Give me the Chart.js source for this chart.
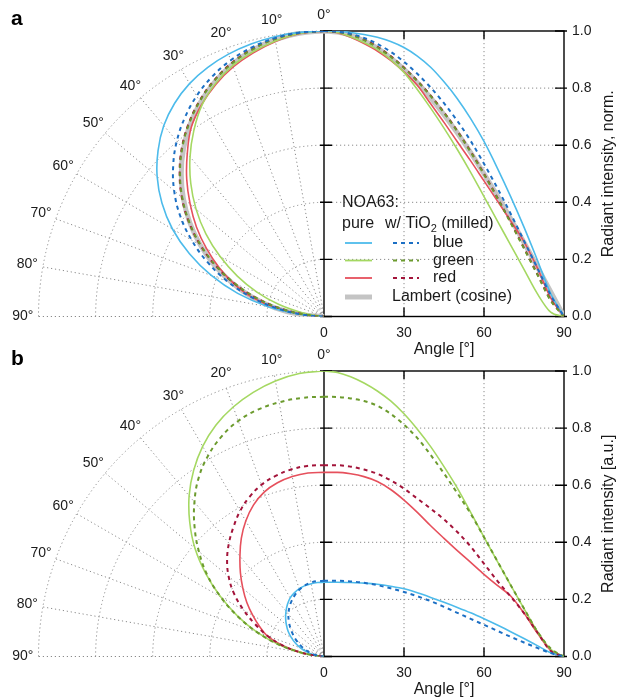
<!DOCTYPE html>
<html>
<head>
<meta charset="utf-8">
<script src="https://cdn.jsdelivr.net/npm/chart.js@4.4.1/dist/chart.umd.min.js"></script>
<style>
body { margin: 0; background: #fff; }
#wrap { position: relative; width: 618px; height: 698px; }
canvas { position: absolute; left: 0; }
#chartA { top: 0; }
#chartB { top: 340px; }
</style>
</head>
<body>
<div id="wrap">
  <canvas id="chartA" width="618" height="358"></canvas>
  <canvas id="chartB" width="618" height="358"></canvas>
</div>
<script>
// emission angle in degrees
const angles = [0, 5, 10, 15, 20, 25, 30, 35, 40, 45, 50, 55, 60, 65, 70, 75, 80, 85, 90];

// panel a, normalized
const lambert      = [1, 0.996, 0.985, 0.966, 0.94, 0.906, 0.866, 0.819, 0.766, 0.707, 0.643, 0.574, 0.5, 0.423, 0.342, 0.259, 0.174, 0.087, 0];
const aBluePure    = [1, 0.999, 0.995, 0.988, 0.978, 0.963, 0.942, 0.912, 0.873, 0.822, 0.763, 0.693, 0.613, 0.52, 0.42, 0.313, 0.198, 0.08, 0];
const aBlueMilled  = [1, 0.998, 0.99, 0.976, 0.955, 0.927, 0.892, 0.85, 0.802, 0.747, 0.685, 0.615, 0.535, 0.45, 0.36, 0.265, 0.17, 0.075, 0];
const aGreenPure   = [1, 0.995, 0.98, 0.96, 0.935, 0.9, 0.855, 0.795, 0.73, 0.66, 0.585, 0.505, 0.42, 0.335, 0.25, 0.165, 0.08, 0.015, 0];
const aGreenMilled = [1, 0.997, 0.987, 0.968, 0.943, 0.91, 0.87, 0.824, 0.772, 0.713, 0.648, 0.576, 0.498, 0.415, 0.328, 0.238, 0.147, 0.056, 0];
const aRedPure     = [1, 0.994, 0.978, 0.956, 0.93, 0.897, 0.857, 0.81, 0.745, 0.68, 0.612, 0.545, 0.475, 0.405, 0.335, 0.262, 0.17, 0.065, 0];
const aRedMilled   = [1, 0.997, 0.988, 0.97, 0.945, 0.912, 0.872, 0.826, 0.774, 0.715, 0.65, 0.578, 0.5, 0.417, 0.33, 0.24, 0.149, 0.058, 0];

// panel b, a.u.
const bBluePure    = [0.26, 0.26, 0.259, 0.257, 0.253, 0.246, 0.237, 0.223, 0.207, 0.19, 0.172, 0.153, 0.132, 0.11, 0.087, 0.063, 0.038, 0.013, 0];
const bBlueMilled  = [0.265, 0.265, 0.263, 0.258, 0.25, 0.239, 0.226, 0.211, 0.194, 0.174, 0.153, 0.132, 0.111, 0.09, 0.069, 0.049, 0.03, 0.012, 0];
const bGreenPure   = [1, 0.995, 0.98, 0.958, 0.93, 0.895, 0.85, 0.796, 0.735, 0.665, 0.59, 0.505, 0.418, 0.333, 0.25, 0.168, 0.088, 0.025, 0];
const bGreenMilled = [0.91, 0.909, 0.904, 0.895, 0.878, 0.85, 0.812, 0.765, 0.706, 0.641, 0.572, 0.5, 0.418, 0.334, 0.25, 0.168, 0.088, 0.028, 0];
const bRedPure     = [0.645, 0.645, 0.64, 0.63, 0.613, 0.585, 0.548, 0.505, 0.458, 0.414, 0.371, 0.33, 0.288, 0.249, 0.212, 0.152, 0.082, 0.021, 0];
const bRedMilled   = [0.67, 0.67, 0.665, 0.655, 0.64, 0.617, 0.588, 0.553, 0.518, 0.48, 0.436, 0.385, 0.325, 0.265, 0.21, 0.152, 0.085, 0.02, 0];

// axes
const xTicks = [0, 30, 60, 90];
const yTicks = [0, 0.2, 0.4, 0.6, 0.8, 1.0];
const polarDeg = [0, 10, 20, 30, 40, 50, 60, 70, 80, 90];
const polarRings = [0.2, 0.4, 0.6, 0.8, 1.0];

const TXT = '#1a1a1a';
const FONT = '"Liberation Sans", Arial, sans-serif';
const C = {
    bluePure: '#4dbbeb', blueMilled: '#1c6fc4',
    greenPure: '#a5d862', greenMilled: '#6c9b2e',
    redPure: '#e6505c', redMilled: '#a3143a',
    lambert: '#c4c4c4'
};
const DASH = [4, 4];

Chart.defaults.font.family = FONT;
Chart.defaults.color = TXT;

function polarPoints(vals) {
    return angles.map((a, i) => ({
        x: -vals[i] * Math.sin(a * Math.PI / 180),
        y: vals[i] * Math.cos(a * Math.PI / 180)
    }));
}

function makeDatasets(series) {
    let out = [];
    series.forEach(s => {
        let base = {
            borderColor: s.color, borderWidth: s.width, borderDash: s.dash || [],
            pointRadius: 0, showLine: true, fill: false, order: s.order
        };
        out.push(Object.assign({}, base, {
            xAxisID: 'x', cubicInterpolationMode: 'monotone',
            data: angles.map((a, i) => ({ x: a, y: s.vals[i] }))
        }));
        out.push(Object.assign({}, base, {
            xAxisID: 'xp', tension: 0.4,
            data: polarPoints(s.vals)
        }));
    });
    return out;
}

const framePlugin = {
    id: 'frame',
    beforeDatasetsDraw(chart, args, opts) {
        const ctx = chart.ctx;
        const xs = chart.scales.x, xp = chart.scales.xp, ys = chart.scales.y;
        const cx = xp.getPixelForValue(0), cy = ys.getPixelForValue(0);
        const R = ys.getPixelForValue(0) - ys.getPixelForValue(1);
        const top = ys.getPixelForValue(1), bottom = cy;
        const x0 = xs.getPixelForValue(0), x90 = xs.getPixelForValue(90);

        ctx.save();
        ctx.strokeStyle = '#8a8a8a';
        ctx.lineWidth = 1;
        ctx.setLineDash([1.2, 2.8]);
        // polar rings
        polarRings.forEach(r => {
            ctx.beginPath();
            ctx.arc(cx, cy, r * R, Math.PI, 1.5 * Math.PI);
            ctx.stroke();
        });
        // polar spokes
        polarDeg.forEach(d => {
            if (d === 0) return;
            const t = d * Math.PI / 180;
            ctx.beginPath();
            ctx.moveTo(cx, cy);
            ctx.lineTo(xp.getPixelForValue(-Math.sin(t)), ys.getPixelForValue(Math.cos(t)));
            ctx.stroke();
        });
        // cartesian grid
        [30, 60].forEach(v => {
            const px = xs.getPixelForValue(v);
            ctx.beginPath(); ctx.moveTo(px, top); ctx.lineTo(px, bottom); ctx.stroke();
        });
        yTicks.slice(1, -1).forEach(v => {
            const py = ys.getPixelForValue(v);
            ctx.beginPath(); ctx.moveTo(x0, py); ctx.lineTo(x90, py); ctx.stroke();
        });
        ctx.setLineDash([]);

        // frame and tick marks
        ctx.strokeStyle = '#000';
        ctx.lineWidth = 1.4;
        ctx.strokeRect(x0, top, x90 - x0, bottom - top);
        ctx.beginPath();
        yTicks.forEach(v => {
            const py = ys.getPixelForValue(v);
            ctx.moveTo(x0 - 4, py); ctx.lineTo(x0 + 8, py);
            ctx.moveTo(x90 - 9, py); ctx.lineTo(x90 + 3, py);
        });
        [30, 60].forEach(v => {
            const px = xs.getPixelForValue(v);
            ctx.moveTo(px, bottom); ctx.lineTo(px, bottom - 9);
            ctx.moveTo(px, top); ctx.lineTo(px, top + 8);
        });
        ctx.stroke();

        // polar angle labels
        ctx.fillStyle = TXT;
        ctx.font = '14px ' + FONT;
        ctx.textAlign = 'center';
        ctx.textBaseline = 'middle';
        polarDeg.forEach(d => {
            const t = d * Math.PI / 180;
            const px = xp.getPixelForValue(-1.055 * Math.sin(t));
            const py = ys.getPixelForValue(1.055 * Math.cos(t));
            ctx.fillText(d + '°', px, py);
        });
        ctx.restore();
    },
    afterDraw(chart, args, opts) {
        const ctx = chart.ctx;
        const xs = chart.scales.x, ys = chart.scales.y;
        const top = ys.getPixelForValue(1), bottom = ys.getPixelForValue(0);
        const x0 = xs.getPixelForValue(0), x90 = xs.getPixelForValue(90);
        ctx.save();
        ctx.fillStyle = '#000';
        ctx.font = 'bold 21px ' + FONT;
        ctx.textAlign = 'left';
        ctx.textBaseline = 'alphabetic';
        ctx.fillText(opts.letter, 11, 25);

        ctx.fillStyle = TXT;
        ctx.font = '16px ' + FONT;
        ctx.textAlign = 'center';
        ctx.textBaseline = 'middle';
        ctx.fillText('Angle [°]', (x0 + x90) / 2, bottom + 33);

        ctx.translate(609, (top + bottom) / 2);
        ctx.rotate(-Math.PI / 2);
        ctx.fillText(opts.yTitle, 0, 0);
        ctx.restore();

        if (opts.legend) drawLegend(ctx);
    }
};

function drawLegend(ctx) {
    const f = '16px ' + FONT;
    ctx.save();
    ctx.fillStyle = TXT;
    ctx.font = f;
    ctx.textAlign = 'left';
    ctx.textBaseline = 'middle';
    ctx.fillText('NOA63:', 342, 203);
    ctx.fillText('pure', 342, 224);
    let x = 385;
    ctx.fillText('w/ TiO', x, 224);
    x += ctx.measureText('w/ TiO').width;
    ctx.font = '11px ' + FONT;
    ctx.fillText('2', x, 229);
    x += ctx.measureText('2').width;
    ctx.font = f;
    ctx.fillText(' (milled)', x, 224);

    const rows = [
        { y: 243, pure: C.bluePure, milled: C.blueMilled, label: 'blue' },
        { y: 260.5, pure: C.greenPure, milled: C.greenMilled, label: 'green' },
        { y: 278, pure: C.redPure, milled: C.redMilled, label: 'red' }
    ];
    rows.forEach(r => {
        ctx.lineWidth = 1.8;
        ctx.strokeStyle = r.pure;
        ctx.setLineDash([]);
        ctx.beginPath(); ctx.moveTo(345, r.y); ctx.lineTo(372, r.y); ctx.stroke();
        ctx.lineWidth = 2;
        ctx.strokeStyle = r.milled;
        ctx.setLineDash(DASH);
        ctx.beginPath(); ctx.moveTo(393, r.y); ctx.lineTo(419, r.y); ctx.stroke();
        ctx.fillText(r.label, 433, r.y);
    });
    ctx.setLineDash([]);
    ctx.lineWidth = 5;
    ctx.strokeStyle = C.lambert;
    ctx.beginPath(); ctx.moveTo(345, 297); ctx.lineTo(372, 297); ctx.stroke();
    ctx.fillText('Lambert (cosine)', 392, 297);
    ctx.restore();
}

function makeChart(id, series, opts) {
    return new Chart(document.getElementById(id), {
        type: 'scatter',
        data: { datasets: makeDatasets(series) },
        options: {
            responsive: false,
            animation: false,
            events: [],
            layout: { padding: { left: 38.5, top: 31, right: 0, bottom: 0 } },
            plugins: {
                legend: { display: false },
                tooltip: { enabled: false },
                frame: opts
            },
            scales: {
                x: {
                    type: 'linear', position: 'bottom',
                    min: -107.0625, max: 90,
                    grid: { display: false, drawTicks: false },
                    border: { display: false },
                    ticks: { padding: 8, color: TXT, font: { size: 14 } },
                    afterBuildTicks: s => { s.ticks = xTicks.map(v => ({ value: v })); },
                    afterFit: s => { s.height = 41.5; }
                },
                xp: { type: 'linear', display: false, min: -1, max: 240 / 285.5 },
                y: {
                    type: 'linear', position: 'right',
                    min: 0, max: 1,
                    grid: { display: false, drawTicks: false },
                    border: { display: false },
                    ticks: { padding: 8, color: TXT, font: { size: 14 }, callback: v => v.toFixed(1) },
                    afterBuildTicks: s => { s.ticks = yTicks.map(v => ({ value: v })); },
                    afterFit: s => { s.width = 54; }
                }
            }
        },
        plugins: [framePlugin]
    });
}

makeChart('chartA', [
    { vals: lambert, color: C.lambert, width: 5, order: 3 },
    { vals: aBluePure, color: C.bluePure, width: 1.6, order: 2 },
    { vals: aGreenPure, color: C.greenPure, width: 1.6, order: 2 },
    { vals: aRedPure, color: C.redPure, width: 1.6, order: 2 },
    { vals: aBlueMilled, color: C.blueMilled, width: 2, dash: DASH, order: 1 },
    { vals: aGreenMilled, color: C.greenMilled, width: 2, dash: DASH, order: 1 },
    { vals: aRedMilled, color: C.redMilled, width: 2, dash: DASH, order: 1 }
], { letter: 'a', yTitle: 'Radiant intensity, norm.', legend: true });

makeChart('chartB', [
    { vals: bBluePure, color: C.bluePure, width: 1.6, order: 2 },
    { vals: bGreenPure, color: C.greenPure, width: 1.6, order: 2 },
    { vals: bRedPure, color: C.redPure, width: 1.6, order: 2 },
    { vals: bBlueMilled, color: C.blueMilled, width: 2, dash: DASH, order: 1 },
    { vals: bGreenMilled, color: C.greenMilled, width: 2, dash: DASH, order: 1 },
    { vals: bRedMilled, color: C.redMilled, width: 2, dash: DASH, order: 1 }
], { letter: 'b', yTitle: 'Radiant intensity [a.u.]', legend: false });
</script>
</body>
</html>
